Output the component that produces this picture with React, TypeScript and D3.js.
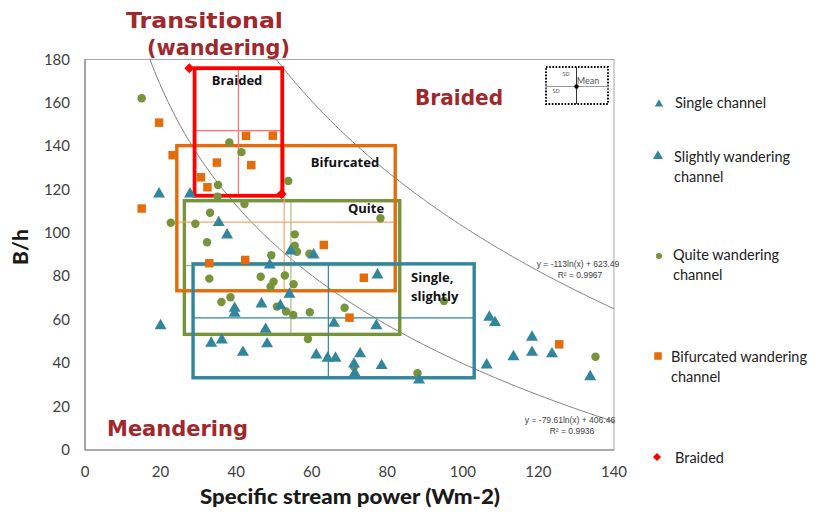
import React from "react";
import * as d3 from "d3";

const W = 818;
const H = 515;

const xTicks = [0, 20, 40, 60, 80, 100, 120, 140];
const yTicks = [0, 20, 40, 60, 80, 100, 120, 140, 160, 180];

// Single channel (triangles)
const singleChannel: [number, number][] = [
  [106.3, 39.2], [107.0, 61.2], [108.5, 58.7], [118.3, 52.0], [118.3, 45.0],
  [113.4, 43.0], [123.6, 44.3], [133.7, 33.8], [88.4, 32.3], [78.5, 38.9],
  [72.8, 44.3], [71.2, 39.6], [71.4, 35.4],
];
// Slightly wandering channel (triangles)
const slightlyWandering: [number, number][] = [
  [19.6, 118.0], [27.8, 118.0], [35.4, 104.8], [37.6, 99.1], [48.9, 85.2],
  [46.7, 67.3], [39.6, 65.3], [39.6, 63.0], [20.0, 57.3], [47.8, 55.6],
  [54.4, 91.7], [60.5, 89.9], [77.4, 80.7], [54.1, 71.8], [51.7, 66.5],
  [65.9, 58.4], [77.1, 57.3], [48.2, 48.9], [61.2, 43.8], [64.2, 42.3],
  [66.3, 42.3], [33.4, 49.2], [36.2, 50.7], [41.8, 45.0],
];
// Quite wandering channel (circles)
const quiteWandering: [number, number][] = [
  [15.0, 162.1], [38.2, 141.7], [41.4, 137.3], [35.2, 122.2], [35.1, 116.8],
  [53.8, 124.0], [42.2, 113.4], [33.1, 109.4], [22.7, 104.8], [29.2, 104.3],
  [32.3, 95.8], [49.3, 89.8], [32.9, 79.0], [46.5, 79.9], [49.9, 77.6],
  [49.1, 75.3], [38.5, 70.4], [36.1, 68.2], [50.8, 66.1], [78.2, 106.8],
  [55.5, 99.4], [55.5, 94.2], [56.1, 91.4], [59.4, 90.5], [52.9, 80.4],
  [55.2, 76.4], [53.2, 63.8], [55.1, 62.2], [59.5, 63.5], [68.7, 65.6],
  [59.0, 51.2], [71.2, 38.4], [88.0, 35.4], [95.0, 68.7], [135.1, 43.0],
];
// Bifurcated wandering channel (squares)
const bifurcated: [number, number][] = [
  [19.6, 150.9], [42.6, 144.8], [49.7, 144.9], [23.2, 135.9], [34.9, 132.5],
  [44.0, 131.3], [30.7, 125.7], [32.4, 121.1], [15.0, 111.3], [32.9, 86.1],
  [42.4, 87.6], [63.2, 94.5], [73.8, 79.4], [70.0, 61.0], [125.5, 48.7],
];
// Braided (diamonds)
const braided: [number, number][] = [
  [27.6, 176.0], [52.0, 118.0],
];

// Mean ± SD boxes per class
const boxNames = ["Quite", "Bifurcated", "Single, slightly", "Braided"];
const boxMinX = [26.3, 24.3, 28.6, 29.0];
const boxMaxX = [83.3, 82.1, 103.0, 52.2];
const boxMeanX = [54.5, 52.7, 64.4, 40.6];
const boxMinY = [53.3, 73.4, 33.3, 117.2];
const boxMaxY = [114.9, 140.3, 85.8, 176.0];
const boxMeanY = [85.0, 105.0, 60.9, 147.2];

// Trendline equations (as printed on chart): y = a*ln(x) + b
const trendA = [-113, -79.61];
const trendB = [623.49, 406.46];
const trendLabels = [
  ["y = -113ln(x) + 623.49", "R² = 0.9967"],
  ["y = -79.61ln(x) + 406.46", "R² = 0.9936"],
];

const C_TEAL = "#31859C";
const C_GREEN = "#77933C";
const C_ORANGE = "#E46C0A";
const C_RED = "#FF0000";
const C_DARKRED = "#A0282C";

const boxStroke = [C_GREEN, C_ORANGE, C_TEAL, C_RED];
const boxInner = ["#A8BE7E", "#F2A66A", C_TEAL, "#FF6F6F"];

export default function App() {
  const x = d3.scaleLinear().domain([0, 140]).range([85, 614]);
  const y = d3.scaleLinear().domain([0, 180]).range([450, 59.5]);

  const tri = d3.symbol().type(d3.symbolTriangle);
  const sq = d3.symbol().type(d3.symbolSquare);
  const circ = d3.symbol().type(d3.symbolCircle);

  const trendPaths = trendA.map((a, i) => {
    const b = trendB[i];
    const x0 = Math.exp((180 - b) / a);
    const xs = d3.range(0, 201).map((k) => x0 + ((140 - x0) * k) / 200);
    const gen = d3
      .line<number>()
      .x((v) => x(v))
      .y((v) => y(a * Math.log(v) + b));
    return gen(xs) || "";
  });

  const fontRegion = "'DejaVu Sans', 'Open Sans', sans-serif";
  const fontBox = "'Open Sans', 'DejaVu Sans', sans-serif";
  const fontBody = "Lato, 'Open Sans', sans-serif";

  const boxOrder = [0, 1, 2, 3];
  void boxNames;

  return (
    <svg width={W} height={H} style={{ position: "absolute", left: 0, top: 0, background: "#fff" }}>
      <rect x={0} y={0} width={W} height={H} fill="#fff" />
      {/* plot frame */}
      <rect x={x(0)} y={y(180)} width={x(140) - x(0)} height={y(0) - y(180)} fill="none" stroke="#A6A6A6" strokeWidth={1} />
      <line x1={x(0)} x2={x(0)} y1={y(180)} y2={y(0)} stroke="#868686" strokeWidth={1.2} />
      <line x1={x(0)} x2={x(140)} y1={y(0)} y2={y(0)} stroke="#868686" strokeWidth={1.2} />

      {/* tick labels */}
      {xTicks.map((t) => (
        <text key={"x" + t} x={x(t)} y={477} textAnchor="middle" fontFamily={fontBody} fontSize={15} fill="#404040">
          {t}
        </text>
      ))}
      {yTicks.map((t) => (
        <text key={"y" + t} x={70} y={y(t) + 5} textAnchor="end" fontFamily={fontBody} fontSize={15} fill="#404040">
          {t}
        </text>
      ))}

      {/* axis titles */}
      <text x={350} y={504} textAnchor="middle" fontFamily={fontBody} fontWeight="900" fontSize={21} fill="#1a1a1a" textLength={300} lengthAdjust="spacingAndGlyphs">
        Specific stream power (Wm-2)
      </text>
      <text transform="translate(28,247) rotate(-90)" textAnchor="middle" fontFamily={fontBody} fontWeight="900" fontSize={21} fill="#1a1a1a">
        B/h
      </text>

      {/* trend lines */}
      {trendPaths.map((p, i) => (
        <path key={"t" + i} d={p} fill="none" stroke="#808080" strokeWidth={1} />
      ))}
      <g fontFamily="'Liberation Sans Narrow', 'Liberation Sans', sans-serif" fontSize={8.5} fill="#404040" textAnchor="middle">
        <text x={578} y={267}>{trendLabels[0][0]}</text>
        <text x={580} y={278}>{trendLabels[0][1]}</text>
        <text x={570} y={423}>{trendLabels[1][0]}</text>
        <text x={572} y={434}>{trendLabels[1][1]}</text>
      </g>

      {/* boxes */}
      {boxOrder.map((i) => (
        <g key={"b" + i}>
          <line x1={x(boxMinX[i])} x2={x(boxMaxX[i])} y1={y(boxMeanY[i])} y2={y(boxMeanY[i])} stroke={boxInner[i]} strokeWidth={1.2} />
          <line x1={x(boxMeanX[i])} x2={x(boxMeanX[i])} y1={y(boxMinY[i])} y2={y(boxMaxY[i])} stroke={boxInner[i]} strokeWidth={1.2} />
          <rect
            x={x(boxMinX[i])}
            y={y(boxMaxY[i])}
            width={x(boxMaxX[i]) - x(boxMinX[i])}
            height={y(boxMinY[i]) - y(boxMaxY[i])}
            fill="none"
            stroke={boxStroke[i]}
            strokeWidth={i === 3 ? 3.8 : 3.4}
          />
        </g>
      ))}

      {/* points */}
      {bifurcated.map((d, i) => (
        <path key={"s" + i} d={sq.size(72)() || ""} transform={`translate(${x(d[0])},${y(d[1])})`} fill={C_ORANGE} />
      ))}
      {quiteWandering.map((d, i) => (
        <path key={"c" + i} d={circ.size(56)() || ""} transform={`translate(${x(d[0])},${y(d[1])})`} fill={C_GREEN} />
      ))}
      {slightlyWandering.map((d, i) => (
        <path key={"w" + i} d={tri.size(62)() || ""} transform={`translate(${x(d[0])},${y(d[1])})`} fill={C_TEAL} />
      ))}
      {singleChannel.map((d, i) => (
        <path key={"g" + i} d={tri.size(62)() || ""} transform={`translate(${x(d[0])},${y(d[1])})`} fill={C_TEAL} />
      ))}
      {braided.map((d, i) => (
        <path key={"r" + i} d={sq.size(50)() || ""} transform={`translate(${x(d[0])},${y(d[1])}) rotate(45)`} fill={C_RED} />
      ))}

      {/* box labels */}
      <g fontFamily={fontBox} fontWeight="bold" fontSize={13} fill="#111">
        <text x={237} y={85} textAnchor="middle">Braided</text>
        <text x={345} y={167} textAnchor="middle">Bifurcated</text>
        <text x={366} y={213} textAnchor="middle">Quite</text>
        <text x={411} y={282}>Single,</text>
        <text x={411} y={301}>slightly</text>
      </g>

      {/* region labels */}
      <g fontFamily={fontRegion} fontWeight="bold" fontSize={22} fill={C_DARKRED} textAnchor="middle">
        <text x={204.5} y={28} textLength={157} lengthAdjust="spacingAndGlyphs">Transitional</text>
        <text x={218.5} y={55} textLength={143} lengthAdjust="spacingAndGlyphs">(wandering)</text>
        <text x={459} y={105} textLength={88} lengthAdjust="spacingAndGlyphs">Braided</text>
        <text x={177.5} y={436} textLength={141} lengthAdjust="spacingAndGlyphs">Meandering</text>
      </g>

      {/* mean / SD key */}
      <g>
        <rect x={546} y={67} width={62} height={37} fill="none" stroke="#000" strokeWidth={2} strokeDasharray="1.6,1.6" />
        <line x1={546} x2={608} y1={86.5} y2={86.5} stroke="#9a9a9a" strokeWidth={1.2} />
        <line x1={546} x2={546} y1={83} y2={90} stroke="#9a9a9a" strokeWidth={1} />
        <line x1={608} x2={608} y1={83} y2={90} stroke="#9a9a9a" strokeWidth={1} />
        <line x1={576.5} x2={576.5} y1={67} y2={104} stroke="#333" strokeWidth={1} />
        <circle cx={576.5} cy={86.5} r={2.2} fill="#000" />
        <text x={588} y={84} textAnchor="middle" fontFamily={fontBody} fontSize={9} fill="#555">Mean</text>
        <text x={566} y={76} textAnchor="middle" fontFamily={fontBody} fontSize={5.5} fill="#555">SD</text>
        <text x={556} y={93} textAnchor="middle" fontFamily={fontBody} fontSize={5.5} fill="#555">SD</text>
      </g>

      {/* legend */}
      <g fontFamily={fontBody} fontSize={14.5} fill="#222">
        <path d={tri.size(30)() || ""} transform="translate(659,104)" fill={C_TEAL} />
        <text x={675} y={108}>Single channel</text>
        <path d={tri.size(44)() || ""} transform="translate(658,156)" fill={C_TEAL} />
        <text x={674} y={162}>Slightly wandering</text>
        <text x={674} y={182}>channel</text>
        <path d={circ.size(28)() || ""} transform="translate(659,256)" fill={C_GREEN} />
        <text x={673} y={260}>Quite wandering</text>
        <text x={673} y={280}>channel</text>
        <path d={sq.size(56)() || ""} transform="translate(658,356)" fill={C_ORANGE} />
        <text x={671} y={362}>Bifurcated wandering</text>
        <text x={671} y={382}>channel</text>
        <path d={sq.size(34)() || ""} transform="translate(657,457) rotate(45)" fill={C_RED} />
        <text x={675} y={463}>Braided</text>
      </g>
    </svg>
  );
}
